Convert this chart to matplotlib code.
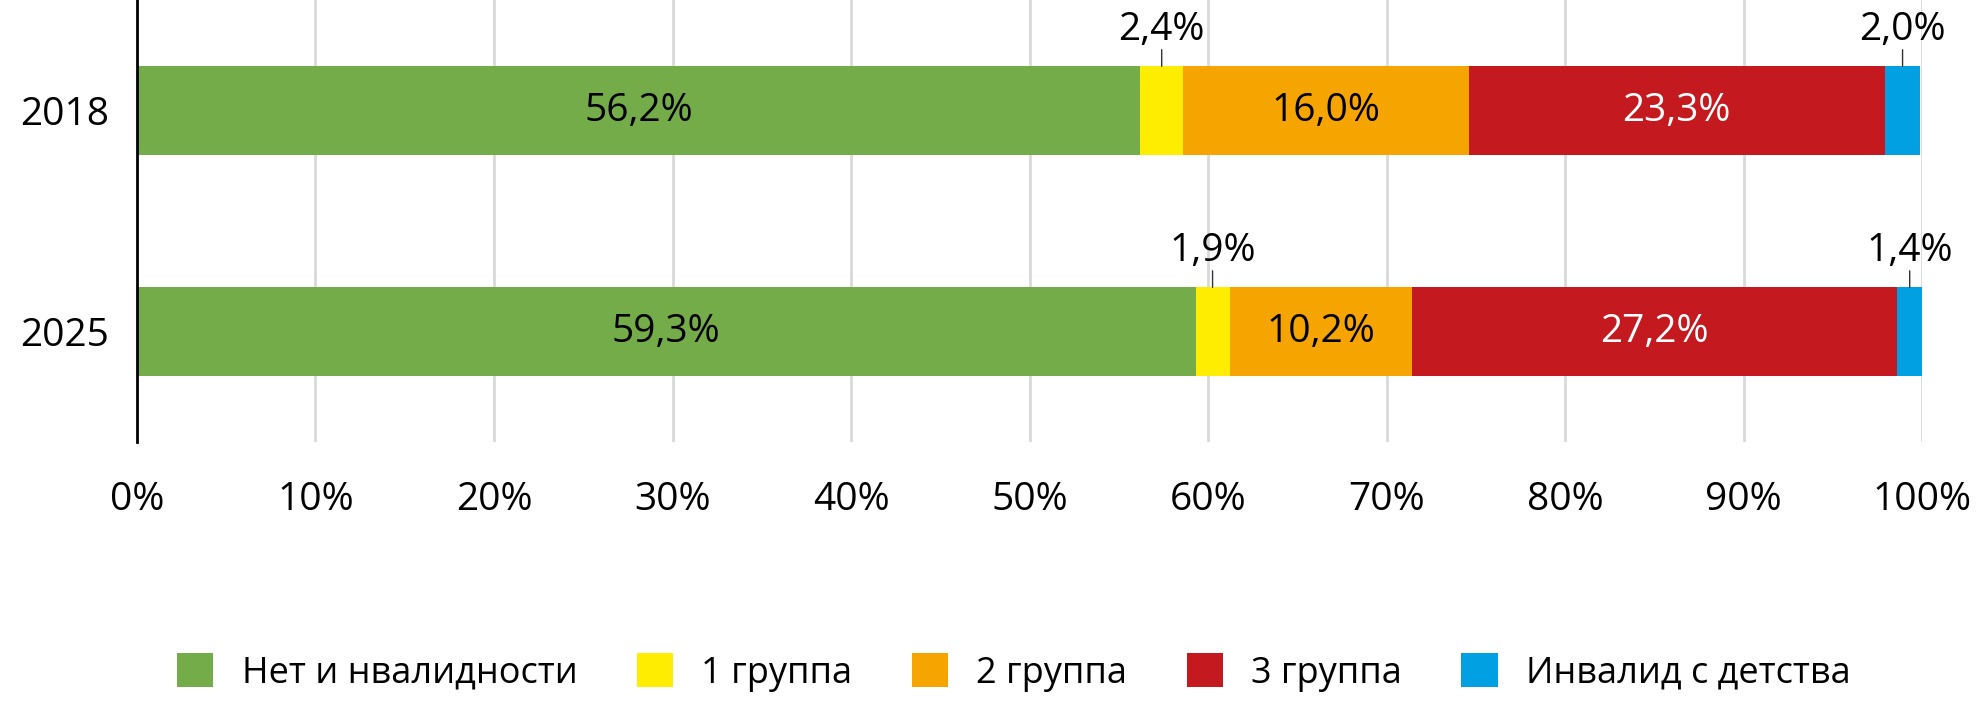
import matplotlib
matplotlib.use("Agg")
import matplotlib.pyplot as plt
import numpy as np

years = ["2018", "2025"]
categories = ["Нет и нвалидности", "1 группа", "2 группа", "3 группа", "Инвалид с детства"]
colors = ["#74AC4A", "#FFED00", "#F6A500", "#C4191F", "#00A0E3"]
text_colors = ["black", "black", "black", "white", "black"]
values = {
    "2018": [56.2, 2.4, 16.0, 23.3, 2.0],
    "2025": [59.3, 1.9, 10.2, 27.2, 1.4],
}
small = [1, 4]  # segments labelled above the bar

plt.rcParams['font.family'] = ['Open Sans', 'DejaVu Sans']
fs = 28

fig = plt.figure(figsize=(19.88, 7.02), dpi=100)
ax = fig.add_axes([0.0689, 0.370, 0.898, 0.630])

bar_h = 0.4
y = np.arange(len(years))
for yi, yr in zip(y, years):
    vals = values[yr]
    left = 0
    for i, v in enumerate(vals):
        ax.barh(yi, v, left=left, height=bar_h, color=colors[i],
                label=categories[i] if yi == 0 else None, zorder=3)
        cx = left + v / 2
        txt = f"{v:.1f}%".replace(".", ",")
        if i in small:
            top = yi - bar_h / 2
            ax.annotate("", xy=(cx, top), xytext=(0, 12), textcoords="offset points",
                        arrowprops=dict(arrowstyle="-", color="#333333", lw=1,
                                        shrinkA=0, shrinkB=0))
            ax.annotate(txt, xy=(cx, top), xytext=(0, 26), textcoords="offset points",
                        ha="center", va="center", fontsize=fs, color="black")
        else:
            ax.text(cx, yi, txt, ha="center", va="center", fontsize=fs,
                    color=text_colors[i], zorder=4)
        left += v

ax.set_xlim(0, 100)
ax.set_ylim(1.5, -0.5)
ax.set_yticks(y)
ax.set_yticklabels(years)
ax.set_xticks(np.arange(0, 101, 10))
ax.set_xticklabels([f"{t}%" for t in range(0, 101, 10)])
ax.tick_params(axis="both", length=0, labelsize=fs)
ax.tick_params(axis="x", pad=28)
ax.tick_params(axis="y", pad=20)
ax.grid(axis="x", color="#D9D9D9", lw=2, zorder=0)
for s in ["top", "right", "bottom"]:
    ax.spines[s].set_visible(False)
ax.spines["left"].set_linewidth(2)
ax.spines["left"].set_zorder(5)

fig.legend(loc="center", bbox_to_anchor=(0.51, 0.042), ncol=5, frameon=False,
           fontsize=26, handlelength=1.0, handleheight=1.05, handletextpad=0.78,
           columnspacing=1.65)

fig.savefig("out.png", dpi=100)
